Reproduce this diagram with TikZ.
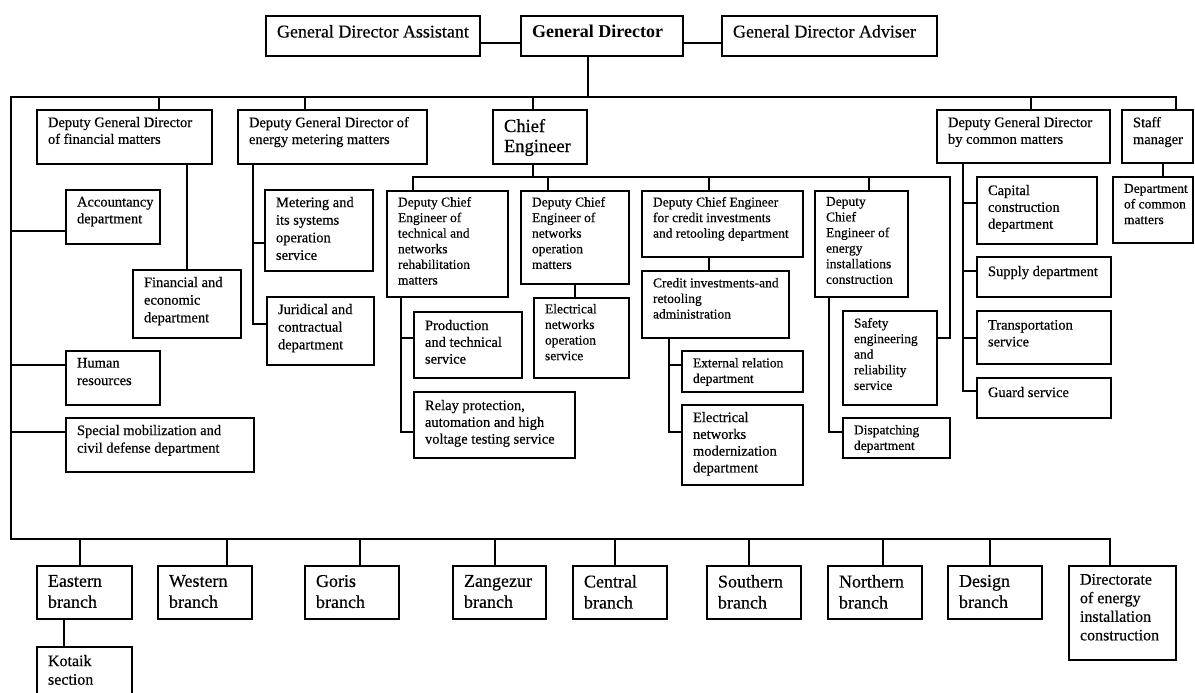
\documentclass[tikz,border=0pt]{standalone}
\usepackage{fontspec}
\setmainfont{Liberation Serif}[UprightFeatures={FakeBold=0.4}]
\newcommand{\fT}{\fontsize{18}{21}\selectfont}
\newcommand{\fM}{\fontsize{14.5}{16.8}\selectfont}
\newcommand{\fL}{\fontsize{14.5}{17.6}\selectfont}
\newcommand{\fS}{\fontsize{13.5}{15.6}\selectfont}
\newcommand{\fD}{\fontsize{16}{18.6}\selectfont}
\newcommand{\bx}[8]{\node[box] (#1) at (#2,#3) {\parbox[c][\dimexpr #5pt-#3pt\relax][t]{\dimexpr #4pt-#2pt\relax}{#6\raggedright\leftskip=11pt\relax\vspace*{#7pt}#8}};}
\tikzset{
  box/.style={draw, line width=1.3pt, inner sep=0pt, outer sep=0pt, anchor=north west},
  conn/.style={draw, line width=1.3pt}
}
\begin{document}
\begin{tikzpicture}[x=1pt,y=-1pt]
\useasboundingbox (0,0) rectangle (1195,693);
\fill[white] (0,0) rectangle (1195,693);
\clip (0,0) rectangle (1195,693);
% top
\bx{asst}{266}{16}{480}{56}{\fT}{9}{General Director Assistant}
\bx{gd}{521}{16}{683}{56}{\fT\bfseries}{9}{General Director}
\bx{adv}{722}{16}{937}{56}{\fT}{9}{General Director Adviser}
% second row
\bx{dfin}{37}{110}{212}{164}{\fM}{7}{Deputy General Director\\of financial matters}
\bx{dmet}{238}{110}{427}{164}{\fM}{7}{Deputy General Director of\\energy metering matters}
\bx{chief}{493}{110}{587}{164}{\fontsize{18.5}{20}\selectfont}{9}{Chief\\Engineer}
\bx{dcom}{937}{110}{1110}{163}{\fM}{7}{Deputy General Director\\by common matters}
\bx{staff}{1122}{110}{1193}{163}{\fM}{7}{Staff\\manager}
% left column
\bx{acc}{66}{190}{160}{244}{\fM}{7}{Accountancy\\department}
\bx{hr}{66}{351}{160}{405}{\fL}{7}{Human\\resources}
\bx{spec}{66}{418}{254}{472}{\fL}{7}{Special mobilization and\\civil defense department}
\bx{fine}{133}{270}{241}{338}{\fL}{7}{Financial and\\economic\\department}
\bx{meter}{265}{190}{373}{271}{\fL}{7}{Metering and\\its systems\\operation\\service}
\bx{jur}{267}{297}{374}{365}{\fL}{7}{Juridical and\\contractual\\department}
% chief engineer subtree
\bx{dtech}{387}{191}{508}{297}{\fS}{6}{Deputy Chief\\Engineer of\\technical and\\networks\\rehabilitation\\matters}
\bx{dnet}{521}{191}{629}{284}{\fS}{6}{Deputy Chief\\Engineer of\\networks\\operation\\matters}
\bx{dcred}{642}{191}{803}{257}{\fS}{6}{Deputy Chief Engineer\\for credit investments\\and retooling department}
\bx{dinst}{815}{191}{908}{297}{\fS}{6}{Deputy\\Chief\\Engineer of\\energy\\installations\\construction}
\bx{prod}{414}{312}{522}{378}{\fM}{8}{Production\\and technical\\service}
\bx{relay}{414}{392}{575}{458}{\fM}{8}{Relay protection,\\automation and high\\voltage testing service}
\bx{eno}{534}{298}{629}{378}{\fS}{6}{Electrical\\networks\\operation\\service}
\bx{cred}{642}{271}{789}{338}{\fS}{7}{Credit investments-and\\retooling\\administration}
\bx{ext}{682}{351}{803}{392}{\fS}{7}{External relation\\department}
\bx{emod}{682}{405}{803}{485}{\fM}{7}{Electrical\\networks\\modernization\\department}
\bx{safe}{843}{311}{937}{405}{\fS}{7}{Safety\\engineering\\and\\reliability\\service}
\bx{disp}{843}{418}{950}{458}{\fS}{7}{Dispatching\\department}
% common matters
\bx{cap}{977}{177}{1097}{244}{\fM}{8}{Capital\\construction\\department}
\bx{sup}{977}{257}{1111}{297}{\fM}{9}{Supply department}
\bx{trn}{977}{311}{1111}{364}{\fM}{9}{Transportation\\service}
\bx{grd}{977}{378}{1111}{418}{\fM}{9}{Guard service}
\bx{dcm}{1113}{177}{1193}{243}{\fS}{7}{Department\\of common\\matters}
% branches
\bx{east}{37}{566}{132}{619}{\fT}{9}{Eastern\\branch}
\bx{west}{158}{566}{252}{619}{\fT}{9}{Western\\branch}
\bx{goris}{305}{566}{399}{619}{\fT}{9}{Goris\\branch}
\bx{zang}{453}{566}{546}{619}{\fT}{9}{Zangezur\\branch}
\bx{cent}{573}{566}{667}{619}{\fT}{9}{Central\\branch}
\bx{south}{707}{566}{801}{619}{\fT}{9}{Southern\\branch}
\bx{north}{828}{566}{922}{619}{\fT}{9}{Northern\\branch}
\bx{design}{948}{566}{1042}{619}{\fT}{9}{Design\\branch}
\bx{dir}{1069}{566}{1176}{660}{\fD}{8}{Directorate\\of energy\\installation\\construction}
\bx{kot}{37}{647}{132}{705}{\fD}{8}{Kotaik\\section}
% connectors: top
\draw[conn] ([yshift=-7pt]asst.east) -- ([yshift=-7pt]gd.west);
\draw[conn] ([yshift=-7pt]gd.east) -- ([yshift=-7pt]adv.west);
\draw[conn] (588,0 |- gd.south) -- (588,97);
\draw[conn] (1176,0 |- staff.north) -- (1176,97) -- (11,97) -- (11,539) -- (1110,539) -- (1110,0 |- dir.north);
\draw[conn] (159,97) -- (159,0 |- dfin.north);
\draw[conn] (305,97) -- (305,0 |- dmet.north);
\draw[conn] (533,97) -- (533,0 |- chief.north);
\draw[conn] (1031,97) -- (1031,0 |- dcom.north);
% left column
\draw[conn] (11,231) -- (11,231 -| acc.west);
\draw[conn] (11,365) -- (11,365 -| hr.west);
\draw[conn] (11,432) -- (11,432 -| spec.west);
\draw[conn] (187,0 |- dfin.south) -- (187,0 |- fine.north);
\draw[conn] (253,0 |- dmet.south) -- (253,324) -- (253,324 -| jur.west);
\draw[conn] (253,243) -- (253,243 -| meter.west);
% chief engineer
\draw[conn] (533,0 |- chief.south) -- (533,177);
\draw[conn] (413,0 |- dtech.north) -- (413,177) -- (950,177) -- (950,338) -- (950,338 -| safe.east);
\draw[conn] (548,177) -- (548,0 |- dnet.north);
\draw[conn] (709,177) -- (709,0 |- dcred.north);
\draw[conn] (869,177) -- (869,0 |- dinst.north);
\draw[conn] (401,0 |- dtech.south) -- (401,432) -- (401,432 -| relay.west);
\draw[conn] (401,338) -- (401,338 -| prod.west);
\draw[conn] (575,0 |- dnet.south) -- (575,0 |- eno.north);
\draw[conn] (709,0 |- dcred.south) -- (709,0 |- cred.north);
\draw[conn] (669,0 |- cred.south) -- (669,432) -- (669,432 -| emod.west);
\draw[conn] (669,365) -- (669,365 -| ext.west);
\draw[conn] (829,0 |- dinst.south) -- (829,432) -- (829,432 -| disp.west);
% common matters
\draw[conn] (963,0 |- dcom.south) -- (963,391) -- (963,391 -| grd.west);
\draw[conn] (963,203) -- (963,203 -| cap.west);
\draw[conn] (963,271) -- (963,271 -| sup.west);
\draw[conn] (963,338) -- (963,338 -| trn.west);
\draw[conn] (1163,0 |- staff.south) -- (1163,0 |- dcm.north);
% branches
\draw[conn] (80,539) -- (80,0 |- east.north);
\draw[conn] (227,539) -- (227,0 |- west.north);
\draw[conn] (360,539) -- (360,0 |- goris.north);
\draw[conn] (495,539) -- (495,0 |- zang.north);
\draw[conn] (615,539) -- (615,0 |- cent.north);
\draw[conn] (749,539) -- (749,0 |- south.north);
\draw[conn] (883,539) -- (883,0 |- north.north);
\draw[conn] (990,539) -- (990,0 |- design.north);
\draw[conn] (64,0 |- east.south) -- (64,0 |- kot.north);
\end{tikzpicture}
\end{document}
